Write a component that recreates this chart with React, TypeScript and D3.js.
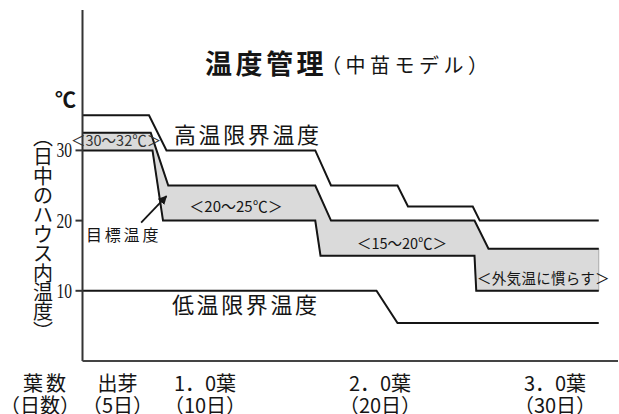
import * as d3 from "d3";

type Pt = [number, number];

// 日数 (x) と温度 (y) で読み取った値
const yTicks = [10, 20, 30];
const stageDays = [5, 10, 20, 30];
const stageLeaf = ["出芽", "1．0葉", "2．0葉", "3．0葉"];
const stageDayLabel = ["（5日）", "（10日）", "（20日）", "（30日）"];

const highLimit: Pt[] = [
  [3, 35], [6.8, 35], [7.8, 30], [16.3, 30], [17.2, 25],
  [21.0, 25], [21.6, 22], [25.3, 22], [25.7, 20], [32.5, 20],
];
const targetUpper: Pt[] = [
  [3, 32.5], [6.9, 32.5], [7.9, 25], [16.3, 25], [17.2, 20],
  [25.4, 20], [26.2, 16], [32.5, 16],
];
const targetLower: Pt[] = [
  [3, 30], [7.0, 30], [7.6, 20], [16.3, 20], [16.6, 15],
  [25.4, 15], [25.5, 10], [32.5, 10],
];
const lowLimit: Pt[] = [[3, 10], [19.8, 10], [21.0, 5.4], [32.5, 5.4]];

// 矢印 (目標温度 → 帯)
const arrowFrom: Pt = [6.35, 19.7];
const arrowTo: Pt = [7.8, 23.5];

const yLabelChars = Array.from("︵日中のハウス内温度︶");

const W = 619;
const H = 414;
const JP = "'Noto Sans CJK JP', 'Noto Sans', sans-serif";
const INK = "#151515";

export default function App() {
  const x = d3.scaleLinear().domain([0, 30]).range([30, 555]);
  const y = d3.scaleLinear().domain([0, 50]).range([361, 10]);

  const line = d3.line<Pt>().x(d => x(d[0])).y(d => y(d[1]));
  const band = line([...targetUpper, ...targetLower.slice().reverse()]) + "Z";

  const x0 = x(3);

  return (
    <svg width={W} height={H} style={{ position: "absolute", left: 0, top: 0, background: "#fff" }}>
      <defs>
        <marker id="ah" viewBox="0 0 10 10" refX="9" refY="5" markerWidth="5" markerHeight="5" orient="auto">
          <path d="M0,0 L10,5 L0,10 Z" fill={INK} />
        </marker>
      </defs>

      {/* 目標温度の帯 */}
      <path d={band} fill="#dadada" stroke="#999" strokeWidth={0.8} />
      <path d={line(targetUpper)!} fill="none" stroke={INK} strokeWidth={2} />
      <path d={line(targetLower)!} fill="none" stroke={INK} strokeWidth={2} />
      <path d={line(highLimit)!} fill="none" stroke={INK} strokeWidth={2} />
      <path d={line(lowLimit)!} fill="none" stroke={INK} strokeWidth={2} />

      {/* 軸 */}
      <line x1={x0} x2={x0} y1={y(50)} y2={y(0)} stroke="#333" strokeWidth={2} />
      <line x1={x0} x2={x(33.6)} y1={y(0)} y2={y(0)} stroke="#444" strokeWidth={2} />
      {yTicks.map(t => (
        <g key={t}>
          <line x1={x0 - 7} x2={x0} y1={y(t)} y2={y(t)} stroke="#333" strokeWidth={2} />
          <text x={72} y={y(t) + 7} textAnchor="end" fontFamily="'Liberation Serif', serif"
            fontSize={21} textLength={15.5} lengthAdjust="spacingAndGlyphs" fill={INK}>{t}</text>
        </g>
      ))}

      <text x={55} y={107} fontFamily={JP} fontSize={21} fontWeight="bold" fill={INK}>℃</text>

      {/* 縦書きラベル */}
      {yLabelChars.map((c, i) => (
        <text key={i} x={43} y={137.3 + i * 19.4 + 7.5} textAnchor="middle"
          fontFamily={JP} fontSize={20} fill={INK}>{c}</text>
      ))}

      {/* タイトル */}
      <text x={205} y={73.5} fontFamily={JP} fontSize={27} fontWeight="bold" letterSpacing={3.5} fill={INK}>温度管理</text>
      <text x={321} y={72.5} fontFamily={JP} fontSize={20} letterSpacing={4.5} fill={INK}>（中苗モデル）</text>

      {/* 注記 */}
      <text x={174} y={143} fontFamily={JP} fontSize={22} letterSpacing={2.6} fill={INK}>高温限界温度</text>
      <text x={172} y={313} fontFamily={JP} fontSize={22} letterSpacing={2.6} fill={INK}>低温限界温度</text>
      <text x={71} y={146} fontFamily={JP} fontSize={14.5} fill="#333">＜30～32℃＞</text>
      <text x={236} y={212} textAnchor="middle" fontFamily={JP} fontSize={15} fill={INK}>＜20～25℃＞</text>
      <text x={402} y={249} textAnchor="middle" fontFamily={JP} fontSize={14.5} fill={INK}>＜15～20℃＞</text>
      <text x={477} y={284} fontFamily={JP} fontSize={14.5} letterSpacing={0.3} fill={INK}>＜外気温に慣らす＞</text>
      <text x={86} y={241} fontFamily={JP} fontSize={16} letterSpacing={2.8} fill={INK}>目標温度</text>
      <line x1={x(arrowFrom[0])} y1={y(arrowFrom[1])} x2={x(arrowTo[0])} y2={y(arrowTo[1])}
        stroke={INK} strokeWidth={1.8} markerEnd="url(#ah)" />

      {/* 葉数・日数 */}
      <text x={46} y={391} textAnchor="middle" fontFamily={JP} fontSize={20} letterSpacing={3} fill={INK}>葉数</text>
      <text x={40} y={413} textAnchor="middle" fontFamily={JP} fontSize={20} fill={INK}>（日数）</text>
      {stageDays.map((d, i) => (
        <g key={d}>
          <text x={x(d)} y={391} textAnchor="middle" fontFamily={JP} fontSize={20} fill={INK}>{stageLeaf[i]}</text>
          <text x={x(d)} y={413} textAnchor="middle" fontFamily={JP} fontSize={20} fill={INK}>{stageDayLabel[i]}</text>
        </g>
      ))}
    </svg>
  );
}
